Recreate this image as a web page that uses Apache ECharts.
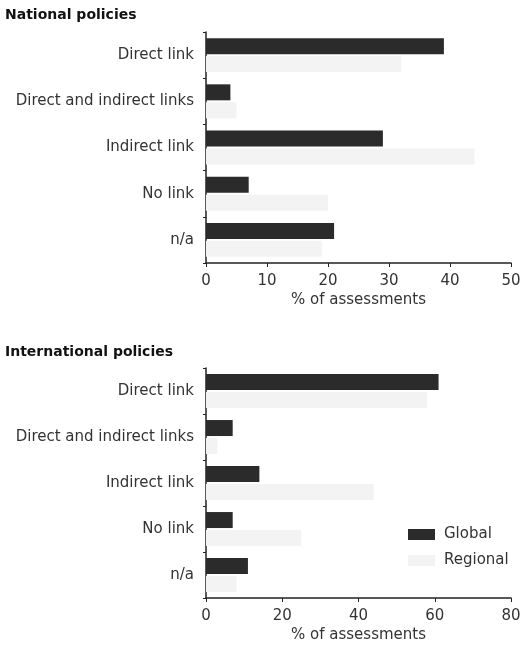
<!DOCTYPE html>
<html>
<head>
<meta charset="utf-8">
<script src="https://cdn.jsdelivr.net/npm/echarts@6/dist/echarts.min.js"></script>
<style>
html,body{margin:0;padding:0;background:#fff;}
#main{width:525px;height:662px;}
</style>
</head>
<body>
<div id="main"></div>
<script>
const categories = ['Direct link', 'Direct and indirect links', 'Indirect link', 'No link', 'n/a'];
const nationalGlobal = [39, 4, 29, 7, 21];
const nationalRegional = [32, 5, 44, 20, 19];
const internationalGlobal = [61, 7, 14, 7, 11];
const internationalRegional = [58, 3, 44, 25, 8];
const nationalTicks = [0, 10, 20, 30, 40, 50];
const internationalTicks = [0, 20, 40, 60, 80];
const panelTitles = ['National policies', 'International policies'];
const seriesNames = ['Global', 'Regional'];

const FONT = 'DejaVu Sans';
const TXT = '#333';
const DARK = '#2b2b2b';
const LIGHT = '#f3f3f3';

function xAxis(idx, max, interval) {
  return {
    gridIndex: idx, type: 'value', min: 0, max: max, interval: interval,
    name: '% of assessments', nameLocation: 'middle', nameGap: 30,
    nameTextStyle: {fontFamily: FONT, fontSize: 15, color: TXT},
    axisLine: {show: true, lineStyle: {color: '#222', width: 1.5}},
    axisTick: {show: true, length: 4, lineStyle: {color: '#222'}},
    axisLabel: {fontFamily: FONT, fontSize: 15, color: TXT, margin: 11},
    splitLine: {show: false}
  };
}
function yAxis(idx) {
  return {
    gridIndex: idx, type: 'category', data: categories, inverse: true,
    axisLine: {show: true, lineStyle: {color: '#222', width: 1.5}},
    axisTick: {show: true, length: 3, lineStyle: {color: '#222'}},
    axisLabel: {fontFamily: FONT, fontSize: 15, color: TXT, margin: 12, padding: [0, 0, 6, 0]},
    splitLine: {show: false}
  };
}
function bar(name, idx, data, color) {
  return {
    name: name, type: 'bar', xAxisIndex: idx, yAxisIndex: idx, data: data,
    barWidth: 16, barGap: '12%',
    itemStyle: {color: color}
  };
}

const chart = echarts.init(document.getElementById('main'), null, {renderer: 'canvas'});
chart.setOption({
  animation: false,
  backgroundColor: '#fff',
  title: [
    {text: panelTitles[0], left: 0, top: 3, textStyle: {fontFamily: FONT, fontSize: 14, fontWeight: 'bold', color: '#111'}},
    {text: panelTitles[1], left: 0, top: 340, textStyle: {fontFamily: FONT, fontSize: 14, fontWeight: 'bold', color: '#111'}}
  ],
  legend: {
    data: seriesNames, orient: 'vertical', left: 403, top: 522,
    icon: 'rect',
    itemWidth: 27, itemHeight: 11, itemGap: 11,
    textStyle: {fontFamily: FONT, fontSize: 15, color: TXT, padding: [0, 0, 0, 4]}
  },
  grid: [
    {left: 206, right: 14, top: 32, height: 231},
    {left: 206, right: 14, top: 368, height: 230}
  ],
  xAxis: [xAxis(0, 50, 10), xAxis(1, 80, 20)],
  yAxis: [yAxis(0), yAxis(1)],
  series: [
    bar(seriesNames[0], 0, nationalGlobal, DARK),
    bar(seriesNames[1], 0, nationalRegional, LIGHT),
    bar(seriesNames[0], 1, internationalGlobal, DARK),
    bar(seriesNames[1], 1, internationalRegional, LIGHT)
  ]
});
</script>
</body>
</html>
